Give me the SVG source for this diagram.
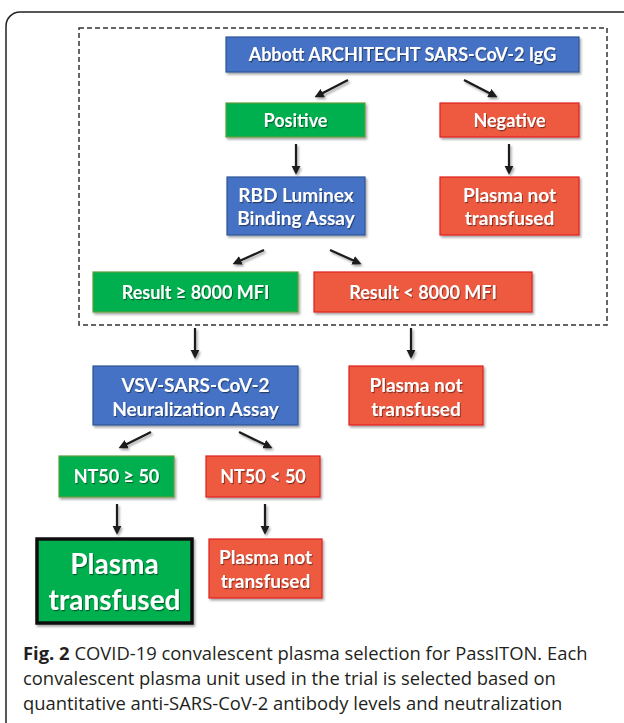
<svg xmlns="http://www.w3.org/2000/svg" width="624" height="723" viewBox="0 0 624 723">
<defs>
<style>
.box{stroke-width:1.2}
.blue{fill:#4472C4;stroke:#2F5597}
.green{fill:#00B050;stroke:#5E9E3A}
.red{fill:#EE5A40;stroke:#E0201E}
.lbl{font-family:Lato,"Open Sans",sans-serif;font-weight:700;fill:#fff;text-anchor:middle;font-size:18px}
.two{font-size:19px}
.cap{font-family:"Open Sans","Noto Sans",sans-serif;font-size:18.4px;fill:#231F20}
.arr{stroke:#1a1a1a;stroke-width:2.2;fill:none;marker-end:url(#ah)}
</style>
<marker id="ah" viewBox="0 0 10 10" refX="7" refY="5" markerWidth="4.2" markerHeight="4.2" orient="auto" markerUnits="strokeWidth">
<path d="M0,0 L10,5 L0,10 z" fill="#1a1a1a"/>
</marker>
<filter id="sh" x="-10%" y="-10%" width="125%" height="135%">
<feDropShadow dx="1.5" dy="2" stdDeviation="1.2" flood-color="#000" flood-opacity="0.35"/>
</filter>
<filter id="ts" x="-5%" y="-20%" width="115%" height="150%">
<feDropShadow dx="1" dy="1.2" stdDeviation="0.6" flood-color="#000" flood-opacity="0.45"/>
</filter>
</defs>
<rect x="0" y="0" width="624" height="723" fill="#fff"/>
<rect x="6" y="12" width="660" height="760" rx="14" fill="none" stroke="#222" stroke-width="1.5"/>
<rect x="79" y="28" width="528" height="297" fill="none" stroke="#333" stroke-width="1.5" stroke-dasharray="5,3"/>

<g id="connectors" filter="url(#sh)">
<line class="arr" x1="348" y1="80" x2="317" y2="96"/>
<line class="arr" x1="464" y1="80" x2="495" y2="96"/>
<line class="arr" x1="296" y1="144" x2="296" y2="172"/>
<line class="arr" x1="509" y1="144" x2="509" y2="172"/>
<line class="arr" x1="264" y1="250" x2="235" y2="263"/>
<line class="arr" x1="330" y1="250" x2="359" y2="263"/>
<line class="arr" x1="195" y1="328" x2="195" y2="356"/>
<line class="arr" x1="411" y1="328" x2="411" y2="356"/>
<line class="arr" x1="151" y1="432" x2="121" y2="447"/>
<line class="arr" x1="239" y1="432" x2="270" y2="447"/>
<line class="arr" x1="117" y1="504" x2="117" y2="532"/>
<line class="arr" x1="265" y1="504" x2="265" y2="532"/>
</g>

<g id="abbott"><rect class="box blue" x="226" y="37" width="353" height="35" filter="url(#sh)"/><text class="lbl" x="402.5" y="60.5" filter="url(#ts)">Abbott ARCHITECHT SARS-CoV-2 IgG</text></g>
<g id="positive"><rect class="box green" x="226" y="103" width="139" height="34" filter="url(#sh)"/><text class="lbl" x="295.5" y="126.5" filter="url(#ts)">Positive</text></g>
<g id="negative"><rect class="box red" x="440" y="103" width="139" height="34" filter="url(#sh)"/><text class="lbl" x="509.5" y="126.5" filter="url(#ts)">Negative</text></g>
<g id="rbd"><rect class="box blue" x="227" y="177" width="138" height="58" filter="url(#sh)"/><text class="lbl two" x="296" y="202" filter="url(#ts)">RBD Luminex</text><text class="lbl two" x="296" y="225" filter="url(#ts)">Binding Assay</text></g>
<g id="notTransfused1"><rect class="box red" x="440" y="177" width="139" height="58" filter="url(#sh)"/><text class="lbl two" x="509.5" y="202" filter="url(#ts)">Plasma not</text><text class="lbl two" x="509.5" y="225" filter="url(#ts)">transfused</text></g>
<g id="resultHigh"><rect class="box green" x="93" y="272" width="205" height="40" filter="url(#sh)"/><text class="lbl" x="195.5" y="298.5" filter="url(#ts)">Result ≥ 8000 MFI</text></g>
<g id="resultLow"><rect class="box red" x="314" y="272" width="218" height="40" filter="url(#sh)"/><text class="lbl" x="423" y="298.5" filter="url(#ts)">Result &lt; 8000 MFI</text></g>
<g id="vsv"><rect class="box blue" x="93" y="366" width="205" height="59" filter="url(#sh)"/><text class="lbl two" x="195.5" y="391.5" filter="url(#ts)">VSV-SARS-CoV-2</text><text class="lbl two" x="195.5" y="415.5" filter="url(#ts)">Neuralization Assay</text></g>
<g id="notTransfused2"><rect class="box red" x="349" y="366" width="134" height="59" filter="url(#sh)"/><text class="lbl two" x="416" y="391.5" filter="url(#ts)">Plasma not</text><text class="lbl two" x="416" y="415.5" filter="url(#ts)">transfused</text></g>
<g id="nt50High"><rect class="box green" x="59" y="456" width="115" height="41" filter="url(#sh)"/><text class="lbl" x="116.5" y="483" filter="url(#ts)">NT50 ≥ 50</text></g>
<g id="nt50Low"><rect class="box red" x="206" y="456" width="114" height="41" filter="url(#sh)"/><text class="lbl" x="263" y="483" filter="url(#ts)">NT50 &lt; 50</text></g>
<g id="transfused"><rect x="37" y="539" width="155" height="84" fill="#00B050" stroke="#111" stroke-width="3.5" filter="url(#sh)"/><text class="lbl" x="114.5" y="574" style="font-size:28px" filter="url(#ts)">Plasma</text><text class="lbl" x="114.5" y="610" style="font-size:28px" filter="url(#ts)">transfused</text></g>
<g id="notTransfused3"><rect class="box red" x="209" y="539" width="113" height="59" filter="url(#sh)"/><text class="lbl two" x="265.5" y="564" filter="url(#ts)">Plasma not</text><text class="lbl two" x="265.5" y="588" filter="url(#ts)">transfused</text></g>

<g id="caption">
<text class="cap" x="23" y="660"><tspan font-weight="700">Fig. 2</tspan> COVID-19 convalescent plasma selection for PassITON. Each</text>
<text class="cap" x="23" y="685">convalescent plasma unit used in the trial is selected based on</text>
<text class="cap" x="23" y="710">quantitative anti-SARS-CoV-2 antibody levels and neutralization</text>
</g>
</svg>
